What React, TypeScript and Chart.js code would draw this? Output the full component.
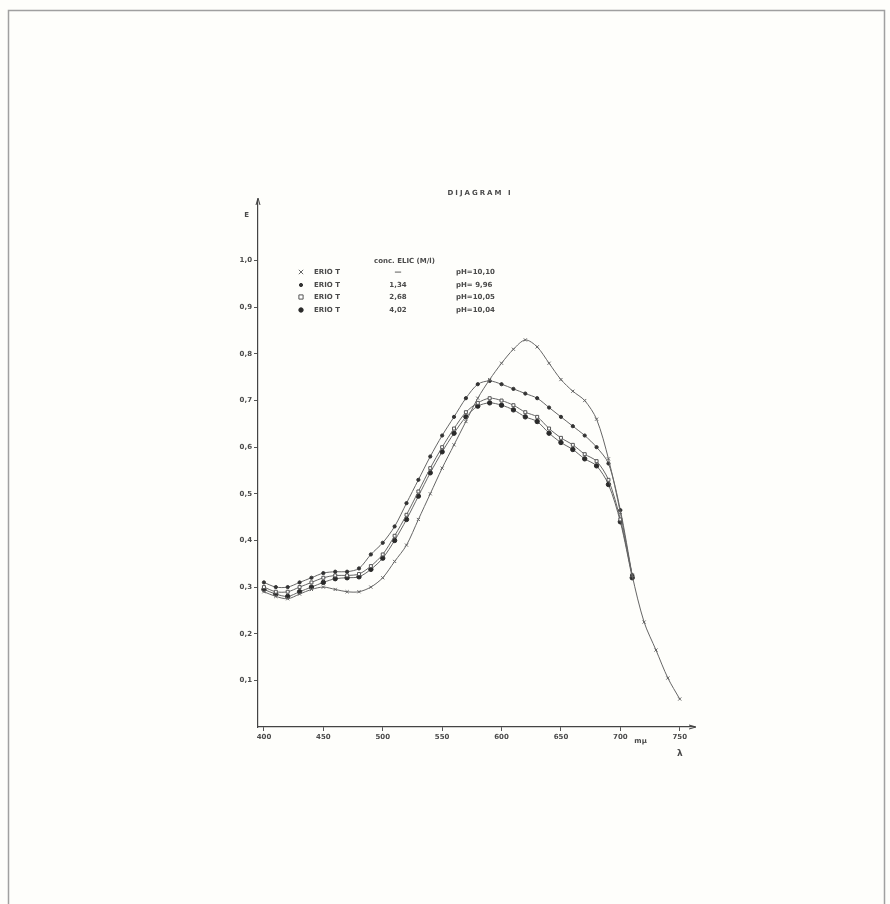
import React, { useEffect, useRef } from "react";
import { Chart, registerables } from "chart.js";

Chart.register(...registerables);

const wavelengths = [400, 410, 420, 430, 440, 450, 460, 470, 480, 490, 500, 510, 520, 530, 540, 550, 560, 570, 580, 590, 600, 610, 620, 630, 640, 650, 660, 670, 680, 690, 700, 710, 720, 730, 740, 750];

const erioT = [0.29, 0.28, 0.275, 0.285, 0.295, 0.3, 0.295, 0.29, 0.29, 0.3, 0.32, 0.355, 0.39, 0.445, 0.5, 0.555, 0.605, 0.655, 0.705, 0.745, 0.78, 0.81, 0.83, 0.815, 0.78, 0.745, 0.72, 0.7, 0.66, 0.575, 0.46, 0.325, 0.225, 0.165, 0.105, 0.06];
const erio134 = [0.31, 0.3, 0.3, 0.31, 0.32, 0.33, 0.333, 0.333, 0.34, 0.37, 0.395, 0.43, 0.48, 0.53, 0.58, 0.625, 0.665, 0.705, 0.735, 0.742, 0.735, 0.725, 0.715, 0.705, 0.685, 0.665, 0.645, 0.625, 0.6, 0.565, 0.465, 0.325, null, null, null, null];
const erio268 = [0.3, 0.29, 0.29, 0.3, 0.31, 0.32, 0.325, 0.325, 0.328, 0.345, 0.37, 0.41, 0.455, 0.505, 0.555, 0.6, 0.64, 0.675, 0.695, 0.705, 0.7, 0.69, 0.675, 0.665, 0.64, 0.62, 0.605, 0.585, 0.57, 0.53, 0.445, 0.325, null, null, null, null];
const erio402 = [0.295, 0.285, 0.28, 0.29, 0.3, 0.31, 0.318, 0.32, 0.322, 0.338, 0.362, 0.4, 0.445, 0.495, 0.545, 0.59, 0.63, 0.665, 0.688, 0.695, 0.69, 0.68, 0.665, 0.655, 0.63, 0.61, 0.595, 0.575, 0.56, 0.52, 0.44, 0.32, null, null, null, null];

const seriesNames = ["ERIO T", "ERIO T", "ERIO T", "ERIO T"];
const concentrations = ["\u2014", "1,34", "2,68", "4,02"];
const phValues = ["pH=10,10", "pH= 9,96", "pH=10,05", "pH=10,04"];
const xTicks = [400, 450, 500, 550, 600, 650, 700, 750];
const yTicks = [0.1, 0.2, 0.3, 0.4, 0.5, 0.6, 0.7, 0.8, 0.9, 1.0];

const TEXT = "#4a4a4a";
const FONT = "bold 7px 'DejaVu Sans'";

const markerStyles = [
  { pointStyle: "crossRot", radius: 2.2, bg: "#666", border: "#666" },
  { pointStyle: "circle", radius: 1.6, bg: "#333", border: "#333" },
  { pointStyle: "rect", radius: 2.1, bg: "#ffffff", border: "#555" },
  { pointStyle: "circle", radius: 2.2, bg: "#2a2a2a", border: "#2a2a2a" },
];

function drawMarker(ctx: CanvasRenderingContext2D, style: string, x: number, y: number, r: number, bg: string, border: string) {
  ctx.save();
  ctx.fillStyle = bg;
  ctx.strokeStyle = border;
  ctx.lineWidth = 1;
  ctx.beginPath();
  if (style === "circle") {
    ctx.arc(x, y, r, 0, Math.PI * 2);
    ctx.fill();
    ctx.stroke();
  } else if (style === "rect") {
    ctx.rect(x - r, y - r, 2 * r, 2 * r);
    ctx.fill();
    ctx.stroke();
  } else {
    ctx.moveTo(x - r, y - r);
    ctx.lineTo(x + r, y + r);
    ctx.moveTo(x + r, y - r);
    ctx.lineTo(x - r, y + r);
    ctx.stroke();
  }
  ctx.restore();
}

const decorPlugin = {
  id: "decor",
  beforeDraw(chart: any) {
    const ctx = chart.ctx as CanvasRenderingContext2D;
    ctx.save();
    ctx.fillStyle = "#fefefb";
    ctx.fillRect(0, 0, chart.width, chart.height);
    ctx.strokeStyle = "#a0a0a0";
    ctx.lineWidth = 1.5;
    ctx.beginPath();
    ctx.moveTo(8.5, 904);
    ctx.lineTo(8.5, 10.5);
    ctx.lineTo(884.5, 10.5);
    ctx.lineTo(884.5, 904);
    ctx.stroke();
    ctx.restore();
  },
  afterDraw(chart: any) {
    const ctx = chart.ctx as CanvasRenderingContext2D;
    const area = chart.chartArea;
    const xs = chart.scales.x;
    ctx.save();
    ctx.fillStyle = TEXT;
    ctx.strokeStyle = "#444";
    ctx.font = FONT;
    ctx.textAlign = "center";
    ctx.textBaseline = "middle";
    (ctx as any).letterSpacing = "2px";
    ctx.fillText("DIJAGRAM I", 480, 193);
    (ctx as any).letterSpacing = "0px";
    ctx.textAlign = "right";
    ctx.fillText("E", 249, 215);
    ctx.beginPath();
    ctx.moveTo(area.left - 2, area.top + 5);
    ctx.lineTo(area.left, area.top - 2);
    ctx.lineTo(area.left + 2, area.top + 5);
    ctx.stroke();
    ctx.beginPath();
    ctx.moveTo(area.right - 5, area.bottom - 2);
    ctx.lineTo(area.right + 2, area.bottom);
    ctx.lineTo(area.right - 5, area.bottom + 2);
    ctx.stroke();
    ctx.textAlign = "left";
    ctx.fillText("m\u03bc", xs.getPixelForValue(700) + 14, area.bottom + 14);
    ctx.textAlign = "center";
    ctx.font = "bold 9px 'DejaVu Sans'";
    ctx.fillText("\u03bb", xs.getPixelForValue(750), area.bottom + 27);
    ctx.font = FONT;
    ctx.textAlign = "left";
    ctx.fillText("conc. ELIC (M/l)", 374, 261);
    const rows = [272, 285, 297, 310];
    rows.forEach((ry, i) => {
      const m = markerStyles[i];
      drawMarker(ctx, m.pointStyle, 301, ry, m.radius, m.bg, m.border);
      ctx.textAlign = "left";
      ctx.fillText(seriesNames[i], 314, ry);
      ctx.textAlign = "center";
      ctx.fillText(concentrations[i], 398, ry);
      ctx.textAlign = "left";
      ctx.fillText(phValues[i], 456, ry);
    });
    ctx.restore();
  },
};

function makeDataset(label: string, values: (number | null)[], i: number) {
  const m = markerStyles[i];
  return {
    label,
    data: wavelengths.map((w, k) => ({ x: w, y: values[k] })),
    borderColor: "#666666",
    borderWidth: 1,
    tension: 0.3,
    pointStyle: m.pointStyle,
    pointRadius: m.radius,
    pointBackgroundColor: m.bg,
    pointBorderColor: m.border,
    pointBorderWidth: 1,
    spanGaps: false,
    fill: false,
  };
}

export default function App() {
  const ref = useRef<HTMLCanvasElement | null>(null);
  useEffect(() => {
    if (!ref.current) return;
    const chart = new Chart(ref.current, {
      type: "line",
      data: {
        datasets: [
          makeDataset("ERIO T \u2014", erioT, 0),
          makeDataset("ERIO T 1,34", erio134, 1),
          makeDataset("ERIO T 2,68", erio268, 2),
          makeDataset("ERIO T 4,02", erio402, 3),
        ],
      },
      options: {
        responsive: false,
        maintainAspectRatio: false,
        animation: false,
        layout: { padding: { left: 228, right: 196, top: 200, bottom: 137 } },
        plugins: { legend: { display: false }, tooltip: { enabled: false }, title: { display: false } },
        scales: {
          x: {
            type: "linear",
            min: 395,
            max: 762,
            afterFit: (s: any) => { s.height = 40; },
            afterBuildTicks: (s: any) => { s.ticks = xTicks.map((v) => ({ value: v })); },
            ticks: {
              color: TEXT,
              font: { family: "DejaVu Sans", size: 7, weight: "bold" },
              padding: 2,
              maxRotation: 0,
              callback: (v: any) => String(v),
            },
            grid: { drawOnChartArea: false, tickLength: 4, color: "#555" },
            border: { display: true, color: "#444", width: 1.2 },
          },
          y: {
            type: "linear",
            min: 0,
            max: 1.13,
            afterFit: (s: any) => { s.width = 30; },
            afterBuildTicks: (s: any) => { s.ticks = yTicks.map((v) => ({ value: v })); },
            ticks: {
              color: TEXT,
              font: { family: "DejaVu Sans", size: 7, weight: "bold" },
              padding: 2,
              callback: (v: any) => Number(v).toFixed(1).replace(".", ","),
            },
            grid: { drawOnChartArea: false, tickLength: 4, color: "#555" },
            border: { display: true, color: "#444", width: 1.2 },
          },
        },
      },
      plugins: [decorPlugin],
    } as any);
    return () => chart.destroy();
  }, []);
  return (
    <div style={{ position: "absolute", left: 0, top: 0, width: 890, height: 904 }}>
      <canvas ref={ref} width={890} height={904} style={{ width: 890, height: 904, display: "block" }} />
    </div>
  );
}
